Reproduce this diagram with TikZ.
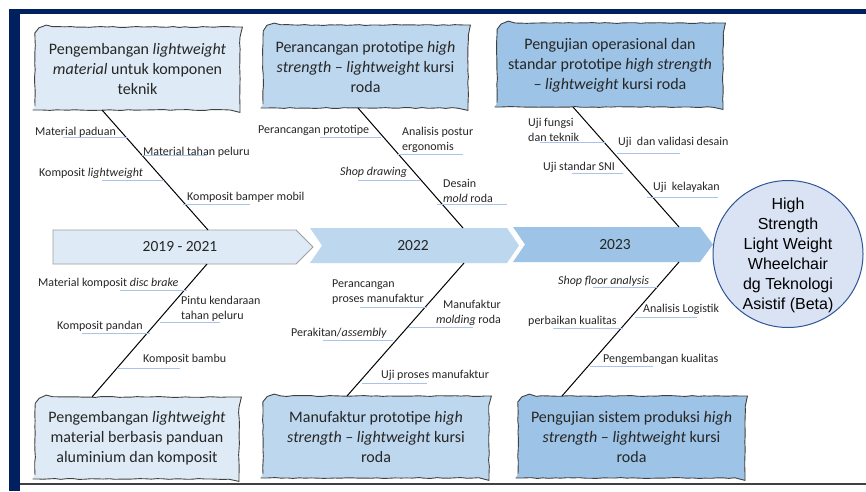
\documentclass[tikz,border=0pt]{standalone}
\usepackage{fontspec}
\setmainfont{Carlito}
\newfontfamily\arialfont{Liberation Sans}
\usetikzlibrary{decorations.pathmorphing}
\definecolor{navy}{HTML}{002060}
\definecolor{cA}{HTML}{DEEBF7}
\definecolor{cB}{HTML}{BDD7EE}
\definecolor{cC}{HTML}{9DC3E6}
\definecolor{circfill}{HTML}{DAE3F3}
\definecolor{circline}{HTML}{2F5597}
\definecolor{uline}{HTML}{A9C4EB}
\definecolor{edgec}{HTML}{404040}
\definecolor{txt}{HTML}{262626}
\newcommand\skbox[7]{%
  \path[sketch, fill=#6] (#2,{#5-4}) -- (#2,{#3+12})
     .. controls (#2,{#3+5}) and ({#2+5},#3) .. ({#2+12},#3)
     -- ({#4-4},#3) .. controls ({#4-1.5},#3) and (#4,{#3+1.5}) .. (#4,{#3+4})
     -- (#4,{#5-4}) .. controls (#4,{#5-1.5}) and ({#4-1.5},#5) .. ({#4-4},#5)
     -- ({#2+4},#5) .. controls ({#2+1.5},#5) and (#2,{#5-1.5}) .. cycle;
  \node[boxtext] (#1) at ({(#2+#4)/2},{(#3+#5)/2}) {#7};}
\begin{document}
\begin{tikzpicture}[x=1pt,y=-1pt,
  boxtext/.style={align=center, font=\fontsize{16}{20}\selectfont, text=txt, inner sep=0pt},
  lbl/.style={font=\fontsize{12}{15}\selectfont, text=txt, inner sep=0pt, align=left, anchor=west},
  ul/.style={draw=uline, line width=0.7pt},
  spine/.style={draw=black, line width=1pt},
  sketch/.style={draw=edgec, line width=0.9pt, decorate, decoration={random steps, segment length=6pt, amplitude=0.45pt}},
  yeartext/.style={font=\fontsize{15.5}{19}\selectfont, text=txt, inner sep=0pt}
]
\pgfmathsetseed{7}
\useasboundingbox (0,0) rectangle (866,491);
\fill[white] (0,0) rectangle (866,491);
% frame
\fill[navy] (9,9) rectangle (20,491);
\fill[navy] (9,9) rectangle (866,14);
\draw[edgec, line width=1.5pt] (20,484) -- (866,484);

% timeline arrows
\path[draw=gray!75, fill=cA, line width=0.8pt] (53,230) -- (296,230) -- (313,247) -- (296,264) -- (53,264) -- cycle;
\node[yeartext] (y1) at (180,247) {2019 - 2021};
\path[fill=cB] (310,228) -- (507,228) -- (519,245.5) -- (507,263) -- (310,263) -- (322,245.5) -- cycle;
\node[yeartext] (y2) at (413,246) {2022};
\path[fill=cC] (513,227) -- (700,227) -- (713,244.5) -- (700,262) -- (513,262) -- (525,244.5) -- cycle;
\node[yeartext] (y3) at (615,245) {2023};

% goal circle
\draw[fill=circfill, draw=circline, line width=1pt] (788,254) ellipse [x radius=75, y radius=73.5];
\node[align=center, inner sep=0pt, font=\arialfont\fontsize{16}{20}\selectfont, text=black] (goal) at (788,255)
  {High\\Strength\\Light Weight\\Wheelchair\\dg Teknologi\\Asistif (Beta)};

% boxes
\skbox{b1}{35}{27}{240}{110}{cA}{Pengembangan \textit{lightweight}\\ \textit{material} untuk komponen\\ teknik}
\skbox{b2}{263}{25}{468}{108}{cB}{Perancangan prototipe \textit{high}\\ \textit{strength – lightweight} kursi\\ roda}
\skbox{b3}{497}{23}{723}{107}{cC}{Pengujian operasional dan\\ standar prototipe \textit{high strength}\\ \textit{– lightweight} kursi roda}
\skbox{b4}{35}{397}{239}{479}{cA}{Pengembangan \textit{lightweight}\\ material berbasis panduan\\ aluminium dan komposit}
\skbox{b5}{263}{396}{489}{478}{cB}{Manufaktur prototipe \textit{high}\\ \textit{strength – lightweight} kursi\\ roda}
\skbox{b6}{518}{396}{745}{478}{cC}{Pengujian sistem produksi \textit{high}\\ \textit{strength – lightweight} kursi\\ roda}

% spines
\coordinate (t1a) at (102,110); \coordinate (t1b) at (208,230);
\coordinate (d1a) at (207,264); \coordinate (d1b) at (92,397);
\coordinate (t2a) at (358,108); \coordinate (t2b) at (463,228);
\coordinate (d2a) at (464,263); \coordinate (d2b) at (347,396);
\coordinate (t3a) at (573,107); \coordinate (t3b) at (679,227);
\coordinate (d3a) at (679,262); \coordinate (d3b) at (562,396);
\draw[spine] (t1a) -- (t1b);
\draw[spine] (d1a) -- (d1b);
\draw[spine] (t2a) -- (t2b);
\draw[spine] (d2a) -- (d2b);
\draw[spine] (t3a) -- (t3b);
\draw[spine] (d3a) -- (d3b);

% underlines
\draw[ul] (63,137) -- (127,137);
\draw[ul] (142,155) -- (207,155);
\draw[ul] (102,180) -- (164,180);
\draw[ul] (183,204) -- (250,204);
\draw[ul] (320,137) -- (381,137);
\draw[ul] (397,154) -- (463,154);
\draw[ul] (358,180) -- (420,180);
\draw[ul] (437,204) -- (507,204);
\draw[ul] (540,142) -- (605,142);
\draw[ul] (617,153) -- (680,153);
\draw[ul] (572,173) -- (623,173);
\draw[ul] (647,197) -- (718,197);
\draw[ul] (120,290) -- (187,290);
\draw[ul] (160,322) -- (220,322);
\draw[ul] (82,333) -- (150,333);
\draw[ul] (117,368) -- (180,368);
\draw[ul] (360,307) -- (427,307);
\draw[ul] (408,327) -- (473,327);
\draw[ul] (323,340) -- (393,340);
\draw[ul] (362,383) -- (427,383);
\draw[ul] (593,287) -- (657,287);
\draw[ul] (635,317) -- (697,317);
\draw[ul] (553,328) -- (623,328);
\draw[ul] (590,366) -- (653,366);

% labels
\node[lbl] (l1) at (35,132) {Material paduan};
\node[lbl] (l2) at (143,152) {Material tahan peluru};
\node[lbl] (l3) at (39,173) {Komposit \textit{lightweight}};
\node[lbl] (l4) at (187,197) {Komposit bamper mobil};
\node[lbl] (l5) at (258,130) {Perancangan prototipe};
\node[lbl] (l6) at (402,139.5) {Analisis postur\\ergonomis};
\node[lbl] (l7) at (340,172) {\textit{Shop drawing}};
\node[lbl] (l8) at (443,191) {Desain\\\textit{mold} roda};
\node[lbl] (l9) at (528,129.5) {Uji fungsi\\dan teknik};
\node[lbl] (l10) at (618,142) {Uji~~dan validasi desain};
\node[lbl] (l11) at (543,167) {Uji standar SNI};
\node[lbl] (l12) at (653,187) {Uji~~kelayakan};
\node[lbl] (l13) at (38,283) {Material komposit \textit{disc brake}};
\node[lbl] (l14) at (181,308.5) {Pintu kendaraan\\tahan peluru};
\node[lbl] (l15) at (57,326) {Komposit pandan};
\node[lbl] (l16) at (143,359) {Komposit bambu};
\node[lbl] (l17) at (332,292.5) {Perancangan\\proses manufaktur};
\node[lbl, anchor=east, align=right] (l18) at (501,313) {Manufaktur\\\textit{molding} roda};
\node[lbl] (l19) at (291,333) {Perakitan/\textit{assembly}};
\node[lbl] (l20) at (381,375) {Uji proses manufaktur};
\node[lbl] (l21) at (558,281) {\textit{Shop floor analysis}};
\node[lbl] (l22) at (643,309) {Analisis Logistik};
\node[lbl] (l23) at (528,321) {perbaikan kualitas};
\node[lbl] (l24) at (603,359) {Pengembangan kualitas};
\end{tikzpicture}
\end{document}
